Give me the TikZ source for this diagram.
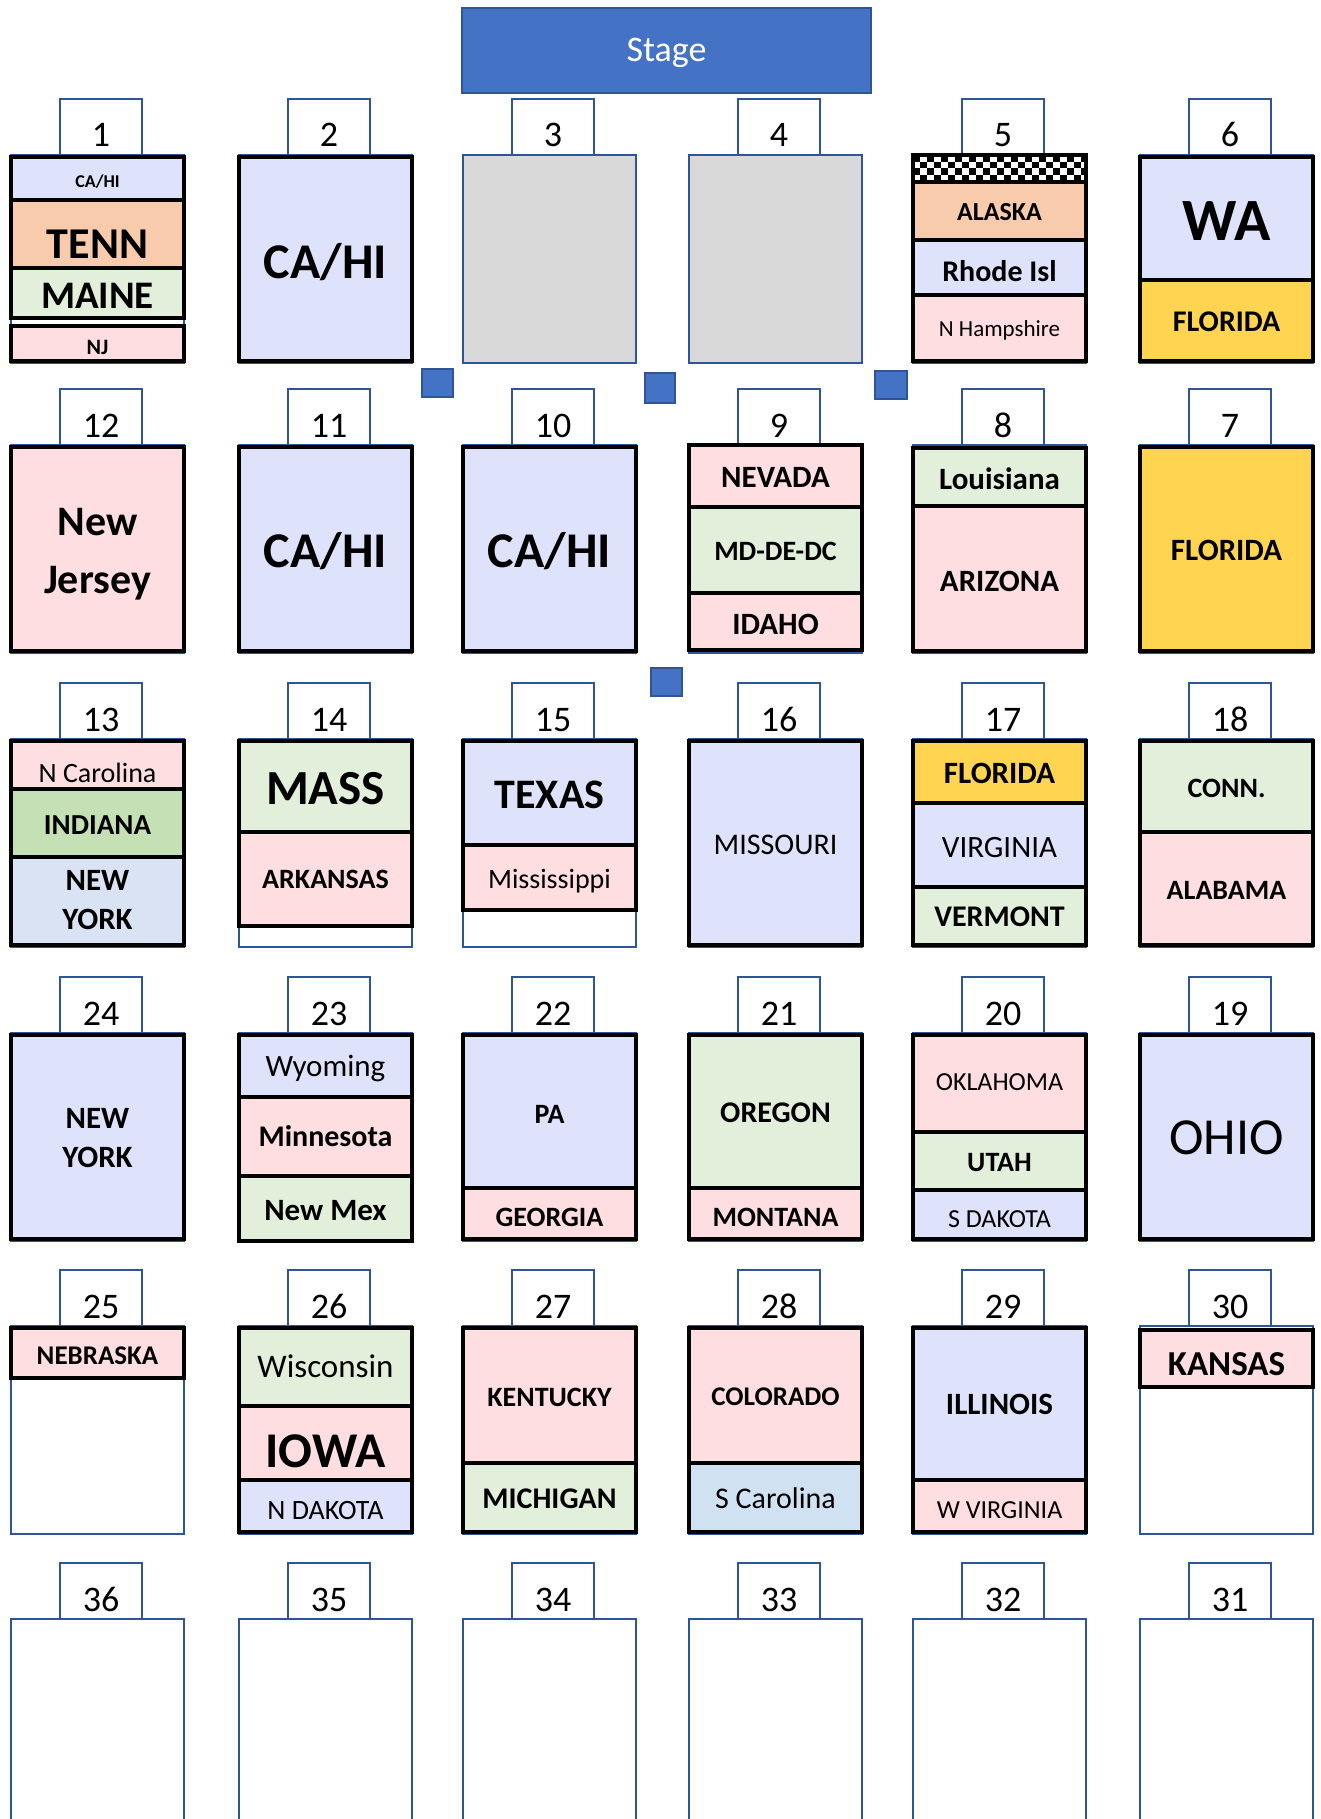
\documentclass[tikz,border=0pt]{standalone}
\usepackage{fontspec}
\setmainfont{Carlito}
\definecolor{lav}{RGB}{222,227,251}
\definecolor{pnk}{RGB}{255,222,226}
\definecolor{pch}{RGB}{248,203,173}
\definecolor{grn}{RGB}{226,239,218}
\definecolor{grnd}{RGB}{197,224,180}
\definecolor{sky}{RGB}{218,227,243}
\definecolor{skyb}{RGB}{208,226,242}
\definecolor{yel}{RGB}{255,212,80}
\definecolor{gry}{RGB}{217,217,217}
\definecolor{stg}{RGB}{68,114,196}
\definecolor{bdr}{RGB}{47,85,151}
\tikzset{
  tabbox/.style={draw=bdr, line width=2pt, fill=white},
  slotbox/.style={draw=bdr, line width=2pt},
  statebox/.style={draw=black, line width=4pt},
  stagebox/.style={draw=bdr, line width=2.5pt, fill=stg},
  marker/.style={draw=bdr, line width=2pt, fill=stg},
}
% slot: number, left x, tab top y, fill
\newcommand{\myslot}[4]{%
  \draw[tabbox] ({#2+51},#3) rectangle ({#2+133},{#3+56});
  \draw[slotbox, fill=#4] ({#2+2},{#3+56}) rectangle ({#2+175},{#3+264});
  \node[font=\fontsize{36}{36}\selectfont, anchor=base, inner sep=0pt] (n#1) at ({#2+92},{#3+48}) {#1};
}
% state box: left x, top, bottom, fill
\newcommand{\stb}[4]{\draw[statebox, fill=#4] ({#1+2},#2) rectangle ({#1+175},#3);}
% label: name, left x, cap centre y, size, font, text
\newcommand{\lab}[6]{\node[font=\fontsize{#4}{#4}\selectfont#5, anchor=base, inner sep=0pt] (#1) at ({#2+88.5},{#3+0.322*#4}) {#6};}
% baseline label: name, left x, baseline y, size, font, text
\newcommand{\blab}[6]{\node[font=\fontsize{#4}{#4}\selectfont#5, anchor=base, inner sep=0pt] (#1) at ({#2+88.5},#3) {#6};}
\begin{document}
\begin{tikzpicture}[x=1pt,y=-1pt]
\clip (0,0) rectangle (1320,1819);
\fill[white] (0,0) rectangle (1320,1819);
% Stage
\draw[stagebox] (462,8) rectangle (871,93);
\node[font=\fontsize{36}{36}\selectfont, text=white, anchor=base, inner sep=0pt] (stage) at (666.5,{50+0.322*36}) {Stage};
% markers
\draw[marker] (422,369) rectangle (453,397);
\draw[marker] (645,373) rectangle (675,403);
\draw[marker] (875,371) rectangle (907,399);
\draw[marker] (651,668) rectangle (682,696);
% ---------- slots ----------
\myslot{1}{9}{99}{white}
\myslot{2}{237}{99}{white}
\myslot{3}{461}{99}{gry}
\myslot{4}{687}{99}{gry}
\myslot{5}{911}{99}{white}
\myslot{6}{1138}{99}{white}
\myslot{12}{9}{389}{white}
\myslot{11}{237}{389}{white}
\myslot{10}{461}{389}{white}
\myslot{9}{687}{389}{white}
\myslot{8}{911}{389}{white}
\myslot{7}{1138}{389}{white}
\myslot{13}{9}{683}{white}
\myslot{14}{237}{683}{white}
\myslot{15}{461}{683}{white}
\myslot{16}{687}{683}{white}
\myslot{17}{911}{683}{white}
\myslot{18}{1138}{683}{white}
\myslot{24}{9}{977}{white}
\myslot{23}{237}{977}{white}
\myslot{22}{461}{977}{white}
\myslot{21}{687}{977}{white}
\myslot{20}{911}{977}{white}
\myslot{19}{1138}{977}{white}
\myslot{25}{9}{1270}{white}
\myslot{26}{237}{1270}{white}
\myslot{27}{461}{1270}{white}
\myslot{28}{687}{1270}{white}
\myslot{29}{911}{1270}{white}
\myslot{30}{1138}{1270}{white}
\myslot{36}{9}{1563}{white}
\myslot{35}{237}{1563}{white}
\myslot{34}{461}{1563}{white}
\myslot{33}{687}{1563}{white}
\myslot{32}{911}{1563}{white}
\myslot{31}{1138}{1563}{white}
% ---------- row 1 ----------
\stb{9}{157}{200}{lav}\stb{9}{200}{268}{pch}\stb{9}{268}{318}{grn}\stb{9}{326}{361}{pnk}
\lab{a1}{9}{182}{18}{\bfseries}{CA/HI}
\lab{b1}{9}{244}{44}{\bfseries}{TENN}
\lab{c1}{9}{296}{39}{\bfseries}{MAINE}
\lab{d1}{9}{347}{22}{\bfseries}{NJ}
\stb{237}{157}{361}{lav}
\lab{a2}{237}{262}{50}{\bfseries}{CA/HI}
% box 5 with checker strip
\fill[black] (913,155) rectangle (1086,182);
\foreach \i in {0,...,24}{\foreach \j in {0,...,3}{%
  \pgfmathtruncatemacro\k{mod(\i+\j,2)}%
  \ifnum\k=1 \fill[white] ({913+7*\i},{155+6.75*\j}) rectangle ({913+7*\i+7},{155+6.75*\j+6.75});\fi}}
\draw[statebox] (913,155) rectangle (1086,182);
\stb{911}{182}{240}{pch}\stb{911}{240}{295}{lav}\stb{911}{295}{361}{pnk}
\lab{a5}{911}{212}{26}{\bfseries}{ALASKA}
\lab{b5}{911}{272}{30}{\bfseries}{Rhode Isl}
\lab{c5}{911}{329.5}{23}{}{N Hampshire}
\stb{1138}{157}{280}{lav}\stb{1138}{280}{361}{yel}
\lab{a6}{1138}{221}{60}{\bfseries}{WA}
\lab{b6}{1138}{322}{30}{\bfseries}{FLORIDA}
% ---------- row 2 ----------
\stb{9}{447}{651}{pnk}
\blab{a12}{9}{535}{42}{\bfseries}{New}
\blab{b12}{9}{593}{42}{\bfseries}{Jersey}
\stb{237}{447}{651}{lav}
\lab{a11}{237}{551}{50}{\bfseries}{CA/HI}
\stb{461}{447}{651}{lav}
\lab{a10}{461}{551}{50}{\bfseries}{CA/HI}
\stb{687}{445}{507}{pnk}\stb{687}{507}{593}{grn}\stb{687}{593}{650}{pnk}
\lab{a9}{687}{478}{31}{\bfseries}{NEVADA}
\lab{b9}{687}{551}{28}{\bfseries}{MD-DE-DC}
\lab{c9}{687}{625}{31}{\bfseries}{IDAHO}
\stb{911}{448}{506}{grn}\stb{911}{506}{651}{pnk}
\lab{a8}{911}{480}{31}{\bfseries}{Louisiana}
\lab{b8}{911}{582}{31}{\bfseries}{ARIZONA}
\stb{1138}{447}{651}{yel}
\lab{a7}{1138}{551}{31}{\bfseries}{FLORIDA}
% ---------- row 3 ----------
\stb{9}{741}{789}{pnk}\stb{9}{789}{857}{grnd}\stb{9}{857}{945}{sky}
\lab{a13}{9}{773}{28}{}{N Carolina}
\lab{b13}{9}{825}{29}{\bfseries}{INDIANA}
\blab{c13}{9}{890}{31}{\bfseries}{NEW}
\blab{d13}{9}{929}{31}{\bfseries}{YORK}
\stb{237}{741}{832}{grn}\stb{237}{832}{926}{pnk}
\lab{a14}{237}{789}{49}{\bfseries}{MASS}
\lab{b14}{237}{879}{28}{\bfseries}{ARKANSAS}
\stb{461}{741}{845}{lav}\stb{461}{845}{910}{pnk}
\lab{a15}{461}{795}{42}{\bfseries}{TEXAS}
\lab{b15}{461}{879}{28}{}{Mississippi}
\stb{687}{741}{945}{lav}
\lab{a16}{687}{845}{30}{}{MISSOURI}
\stb{911}{741}{803}{yel}\stb{911}{803}{887}{lav}\stb{911}{887}{945}{grn}
\lab{a17}{911}{774}{31}{\bfseries}{FLORIDA}
\lab{b17}{911}{848}{31}{}{VIRGINIA}
\lab{c17}{911}{917}{30}{\bfseries}{VERMONT}
\stb{1138}{741}{832}{grn}\stb{1138}{832}{945}{pnk}
\lab{a18}{1138}{788}{28}{\bfseries}{CONN.}
\lab{b18}{1138}{890}{28}{\bfseries}{ALABAMA}
% ---------- row 4 ----------
\stb{9}{1035}{1239}{lav}
\blab{a24}{9}{1128}{31}{\bfseries}{NEW}
\blab{b24}{9}{1167}{31}{\bfseries}{YORK}
\stb{237}{1035}{1097}{lav}\stb{237}{1097}{1176}{pnk}\stb{237}{1176}{1241}{grn}
\lab{a23}{237}{1067}{31}{}{Wyoming}
\lab{b23}{237}{1137}{30}{\bfseries}{Minnesota}
\lab{c23}{237}{1211}{31}{\bfseries}{New Mex}
\stb{461}{1035}{1188}{lav}\stb{461}{1188}{1239}{pnk}
\lab{a22}{461}{1114}{28}{\bfseries}{PA}
\lab{b22}{461}{1217}{28}{\bfseries}{GEORGIA}
\stb{687}{1035}{1188}{grn}\stb{687}{1188}{1239}{pnk}
\lab{a21}{687}{1113}{30}{\bfseries}{OREGON}
\lab{b21}{687}{1217}{28}{\bfseries}{MONTANA}
\stb{911}{1035}{1132}{pnk}\stb{911}{1132}{1190}{grn}\stb{911}{1190}{1239}{lav}
\lab{a20}{911}{1082}{26}{}{OKLAHOMA}
\lab{b20}{911}{1162}{28}{\bfseries}{UTAH}
\lab{c20}{911}{1219}{26}{}{S DAKOTA}
\stb{1138}{1035}{1239}{lav}
\lab{a19}{1138}{1138}{52}{}{OHIO}
% ---------- row 5 ----------
\stb{9}{1328}{1378}{pnk}
\lab{a25}{9}{1356}{27}{\bfseries}{NEBRASKA}
\stb{237}{1328}{1406}{grn}\stb{237}{1406}{1480}{pnk}\stb{237}{1480}{1532}{lav}
\lab{a26}{237}{1367}{33}{}{Wisconsin}
\lab{b26}{237}{1451}{50}{\bfseries}{IOWA}
\lab{c26}{237}{1510}{28}{}{N DAKOTA}
\stb{461}{1328}{1463}{pnk}\stb{461}{1463}{1532}{grn}
\lab{a27}{461}{1397}{28}{\bfseries}{KENTUCKY}
\lab{b27}{461}{1499}{30}{\bfseries}{MICHIGAN}
\stb{687}{1328}{1463}{pnk}\stb{687}{1463}{1532}{skyb}
\lab{a28}{687}{1397}{27}{\bfseries}{COLORADO}
\lab{b28}{687}{1499}{30}{}{S Carolina}
\stb{911}{1328}{1480}{lav}\stb{911}{1480}{1532}{pnk}
\lab{a29}{911}{1405}{31}{\bfseries}{ILLINOIS}
\lab{b29}{911}{1510}{26}{}{W VIRGINIA}
\stb{1138}{1330}{1387}{pnk}
\lab{a30}{1138}{1364}{35}{\bfseries}{KANSAS}
\end{tikzpicture}
\end{document}
